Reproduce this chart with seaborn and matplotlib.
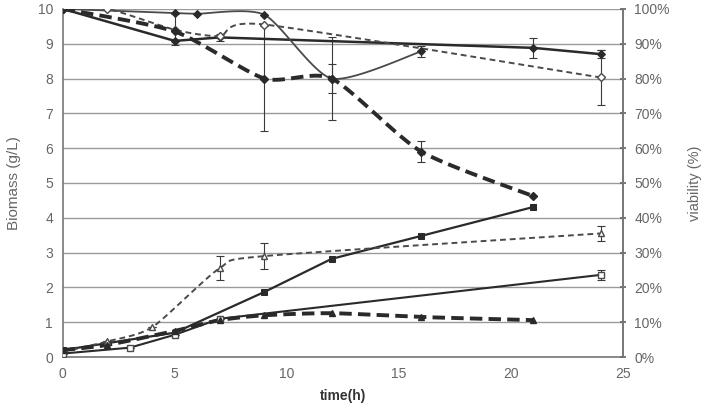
import numpy as np
import matplotlib
matplotlib.use("Agg")
import matplotlib.pyplot as plt
import seaborn as sns
from matplotlib.ticker import FuncFormatter

# ---- data ----
# viability series (plotted on the 0-10 scale, right axis shows %)
via_a_t = [0, 5, 7, 21, 24]
via_a_v = [10.0, 9.08, 9.18, 8.88, 8.70]
via_a_err = [0, 0, 0.1, 0.28, 0.12]

via_b_t = [0, 5, 6, 9, 12, 16]
via_b_v = [10.0, 9.88, 9.86, 9.83, 8.0, 8.78]
via_b_err = [0, 0, 0, 0, 0.43, 0.15]

via_c_t = [0, 2, 5, 7, 9, 24]
via_c_v = [10.0, 10.0, 9.4, 9.22, 9.55, 8.03]
via_c_err = [0, 0, 0.45, 0, 0, 0.8]

via_d_t = [0, 5, 9, 12, 16, 21]
via_d_v = [10.0, 9.35, 8.0, 8.0, 5.9, 4.62]
via_d_err = [0, 0, 1.5, 1.2, 0.3, 0]

# biomass series (g/L)
bio_a_t = [0, 5, 9, 12, 16, 21]
bio_a_v = [0.2, 0.7, 1.87, 2.82, 3.48, 4.31]

bio_b_t = [0, 2, 4, 7, 9, 24]
bio_b_v = [0.15, 0.45, 0.86, 2.55, 2.9, 3.55]
bio_b_err = [0, 0, 0, 0.35, 0.38, 0.22]

bio_c_t = [0, 3, 5, 7, 24]
bio_c_v = [0.1, 0.27, 0.64, 1.1, 2.36]
bio_c_err = [0, 0, 0, 0, 0.15]

bio_d_t = [0, 2, 5, 7, 9, 12, 16, 21]
bio_d_v = [0.2, 0.35, 0.75, 1.06, 1.2, 1.26, 1.15, 1.06]

x_ticks = [0, 5, 10, 15, 20, 25]
y_ticks = list(range(0, 11))


def smooth(x, y, n=24, tau=0.35):
    # cardinal spline through the points (Excel "smoothed line" look)
    p = np.column_stack([x, y]).astype(float)
    p = np.vstack([p[0], p, p[-1]])
    out = []
    for i in range(1, len(p) - 2):
        p0, p1, p2, p3 = p[i - 1], p[i], p[i + 1], p[i + 2]
        m1 = tau * (p2 - p0)
        m2 = tau * (p3 - p1)
        s = np.linspace(0, 1, n, endpoint=False)[:, None]
        h00 = 2 * s ** 3 - 3 * s ** 2 + 1
        h10 = s ** 3 - 2 * s ** 2 + s
        h01 = -2 * s ** 3 + 3 * s ** 2
        h11 = s ** 3 - s ** 2
        out.append(h00 * p1 + h10 * m1 + h01 * p2 + h11 * m2)
    out.append(p[-2][None, :])
    out = np.vstack(out)
    return out[:, 0], out[:, 1]


sns.set_theme(style="white")
plt.rcParams['font.family'] = ['Liberation Sans', 'DejaVu Sans']

fig = plt.figure(figsize=(7.04, 4.03), dpi=100)
ax = fig.add_axes([0.089, 0.114, 0.796, 0.864])

dark = "#2a2a2a"
mid = "#4a4a4a"
ebar = dict(fmt="none", ecolor="#3a3a3a", elinewidth=0.8, capsize=3, capthick=0.8, zorder=2)

# --- viability lines ---
sns.lineplot(x=via_a_t, y=via_a_v, ax=ax, color=dark, lw=1.8, marker="D", ms=4,
             markeredgecolor=dark, sort=False, zorder=3)
ax.errorbar(via_a_t, via_a_v, yerr=via_a_err, **ebar)

bx, by = smooth(via_b_t, via_b_v)
sns.lineplot(x=bx, y=by, ax=ax, color=mid, lw=1.3, sort=False, estimator=None, zorder=3)
sns.lineplot(x=via_b_t, y=via_b_v, ax=ax, color=dark, lw=0, marker="D", ms=4,
             markeredgecolor=dark, sort=False, zorder=4)
ax.errorbar(via_b_t, via_b_v, yerr=via_b_err, **ebar)

cx, cy = smooth(via_c_t, via_c_v)
ax.plot(cx, cy, color=mid, lw=1.4, dashes=(3, 2), zorder=3)
ax.plot(via_c_t, via_c_v, ls="none", marker="D", ms=4, mfc="white", mec=mid, zorder=4)
ax.errorbar(via_c_t, via_c_v, yerr=via_c_err, **ebar)

dx, dy = smooth(via_d_t, via_d_v)
ax.plot(dx, dy, color=dark, lw=2.8, dashes=(3.2, 1.6), zorder=3)
ax.plot(via_d_t, via_d_v, ls="none", marker="D", ms=4, color=dark, zorder=4)
ax.errorbar(via_d_t, via_d_v, yerr=via_d_err, **ebar)

# --- biomass lines ---
sns.lineplot(x=bio_a_t, y=bio_a_v, ax=ax, color=dark, lw=1.6, marker="s", ms=5,
             markeredgecolor=dark, sort=False, zorder=3)

ex, ey = smooth(bio_b_t, bio_b_v)
ax.plot(ex, ey, color=mid, lw=1.4, dashes=(3, 2), zorder=3)
ax.plot(bio_b_t, bio_b_v, ls="none", marker="^", ms=5, mfc="white", mec=mid, zorder=4)
ax.errorbar(bio_b_t, bio_b_v, yerr=bio_b_err, **ebar)

sns.lineplot(x=bio_c_t, y=bio_c_v, ax=ax, color=dark, lw=1.5, sort=False, zorder=3)
ax.plot(bio_c_t, bio_c_v, ls="none", marker="s", ms=5, mfc="white", mec=mid, zorder=4)
ax.errorbar(bio_c_t, bio_c_v, yerr=bio_c_err, **ebar)

fx, fy = smooth(bio_d_t, bio_d_v)
ax.plot(fx, fy, color=dark, lw=2.8, dashes=(3.2, 1.6), zorder=3)
ax.plot(bio_d_t, bio_d_v, ls="none", marker="^", ms=4, color=dark, zorder=4)

# --- axes ---
ax.set_xlim(0, 25)
ax.set_ylim(0, 10)
ax.set_xticks(x_ticks)
ax.set_yticks(y_ticks)
ax.yaxis.grid(True, color="#9a9a9a", lw=1.0)
ax.set_axisbelow(True)
ax.spines["top"].set_visible(False)
for s in ["left", "bottom", "right"]:
    ax.spines[s].set_color("#777777")
    ax.spines[s].set_linewidth(1.2)
ax.tick_params(axis="both", colors="#666666", labelsize=10, length=0, pad=7)
ax.set_ylabel("Biomass (g/L)", color="#666666", fontsize=11, labelpad=12)
ax.set_xlabel("time(h)", color="#333333", fontsize=10, fontweight="bold", labelpad=6)

ax2 = ax.twinx()
ax2.set_ylim(0, 100)
ax2.set_yticks(range(0, 101, 10))
ax2.yaxis.set_major_formatter(FuncFormatter(lambda v, _: f"{int(v)}%"))
ax2.tick_params(axis="y", colors="#666666", labelsize=10, length=4, direction="inout", pad=6)
for s in ["top", "left", "bottom"]:
    ax2.spines[s].set_visible(False)
ax2.spines["right"].set_color("#777777")
ax2.spines["right"].set_linewidth(1.2)
ax2.set_ylabel("viability (%)", color="#666666", fontsize=10.5, labelpad=13)

fig.savefig("out.png", dpi=100)
